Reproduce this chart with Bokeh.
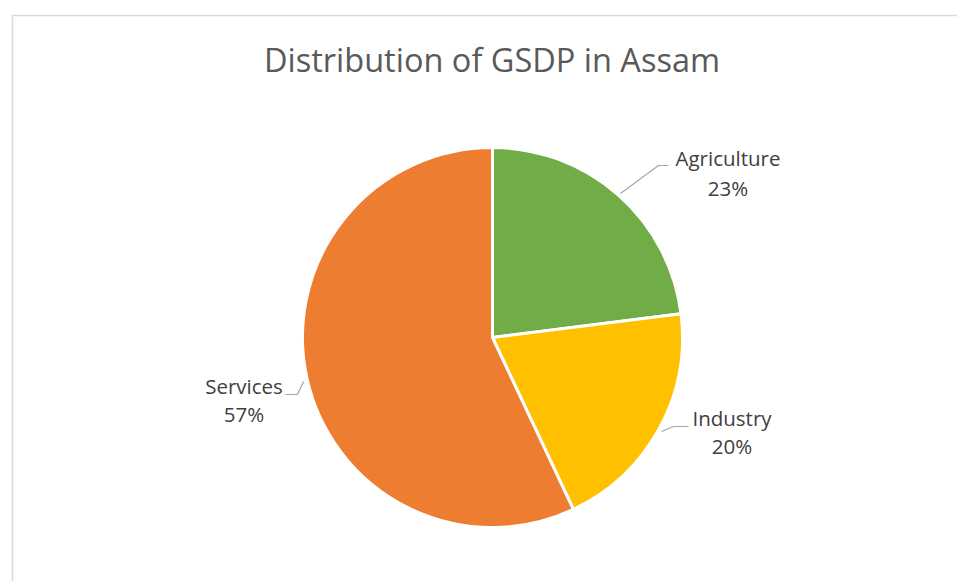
import numpy as np
from bokeh.plotting import figure
from bokeh.models import Range1d, ColumnDataSource
from bokeh.core.properties import value
from bokeh.embed import file_html
from bokeh.resources import INLINE

# ---- data ----
categories = ["Agriculture", "Industry", "Services"]
shares = [23, 20, 57]
colors = ["#70AD47", "#FFC000", "#ED7D31"]
title_text = "Distribution of GSDP in Assam"

# ---- layout (screen pixel coordinates, y measured from top) ----
W, H = 957, 581
def sy(y):
    return H - y

cx, cy, R = 492, 337, 190
label_x = [727.5, 731.5, 243.5]
name_base = [157, 417, 385]
pct_base = [187, 445, 413]
leaders = [
    ([620, 658, 668], [193, 165, 165]),
    ([661, 673, 688], [431, 426, 426]),
    ([303, 297, 285], [381, 394, 394]),
]

p = figure(width=W, height=H, x_range=Range1d(0, W), y_range=Range1d(0, H),
           output_backend="svg", toolbar_location=None, min_border=0)
p.axis.visible = False
p.grid.visible = False
p.outline_line_color = None
p.background_fill_color = "white"
p.border_fill_color = "white"

# chart area border
p.quad(left=[12], right=[990], top=[sy(15)], bottom=[sy(620)], fill_color=None,
       line_color="#D9D9D9", line_width=1.5)

# wedges
vals = np.array(shares, dtype=float)
frac = vals / vals.sum()
ends = np.cumsum(frac)
starts = ends - frac
start_angle = np.pi / 2 - 2 * np.pi * starts
end_angle = np.pi / 2 - 2 * np.pi * ends
src = ColumnDataSource(dict(start=start_angle, end=end_angle, color=colors))
p.wedge(x=cx, y=sy(cy), radius=R, start_angle="start", end_angle="end", direction="clock",
        fill_color="color", line_color="white", line_width=3, source=src)

# leader lines
for xs, ys in leaders:
    p.line(xs, [sy(v) for v in ys], line_color="#A6A6A6", line_width=1.2)

# labels
pct_labels = [f"{int(round(f * 100))}%" for f in frac]
p.text(x=label_x, y=[sy(v) for v in name_base], text=categories, text_align="center",
       text_baseline="alphabetic", text_font=value("Open Sans"), text_font_size="20.5px",
       text_color="#404040")
p.text(x=label_x, y=[sy(v) for v in pct_base], text=pct_labels, text_align="center",
       text_baseline="alphabetic", text_font=value("Open Sans"), text_font_size="20.5px",
       text_color="#404040")

# title
p.text(x=[491.5], y=[sy(59)], text=[title_text], text_align="center", text_baseline="alphabetic",
       text_font=value("Open Sans"), text_font_size="32.5px", text_color="#595959")

open("out.html", "w").write(file_html(p, INLINE))
